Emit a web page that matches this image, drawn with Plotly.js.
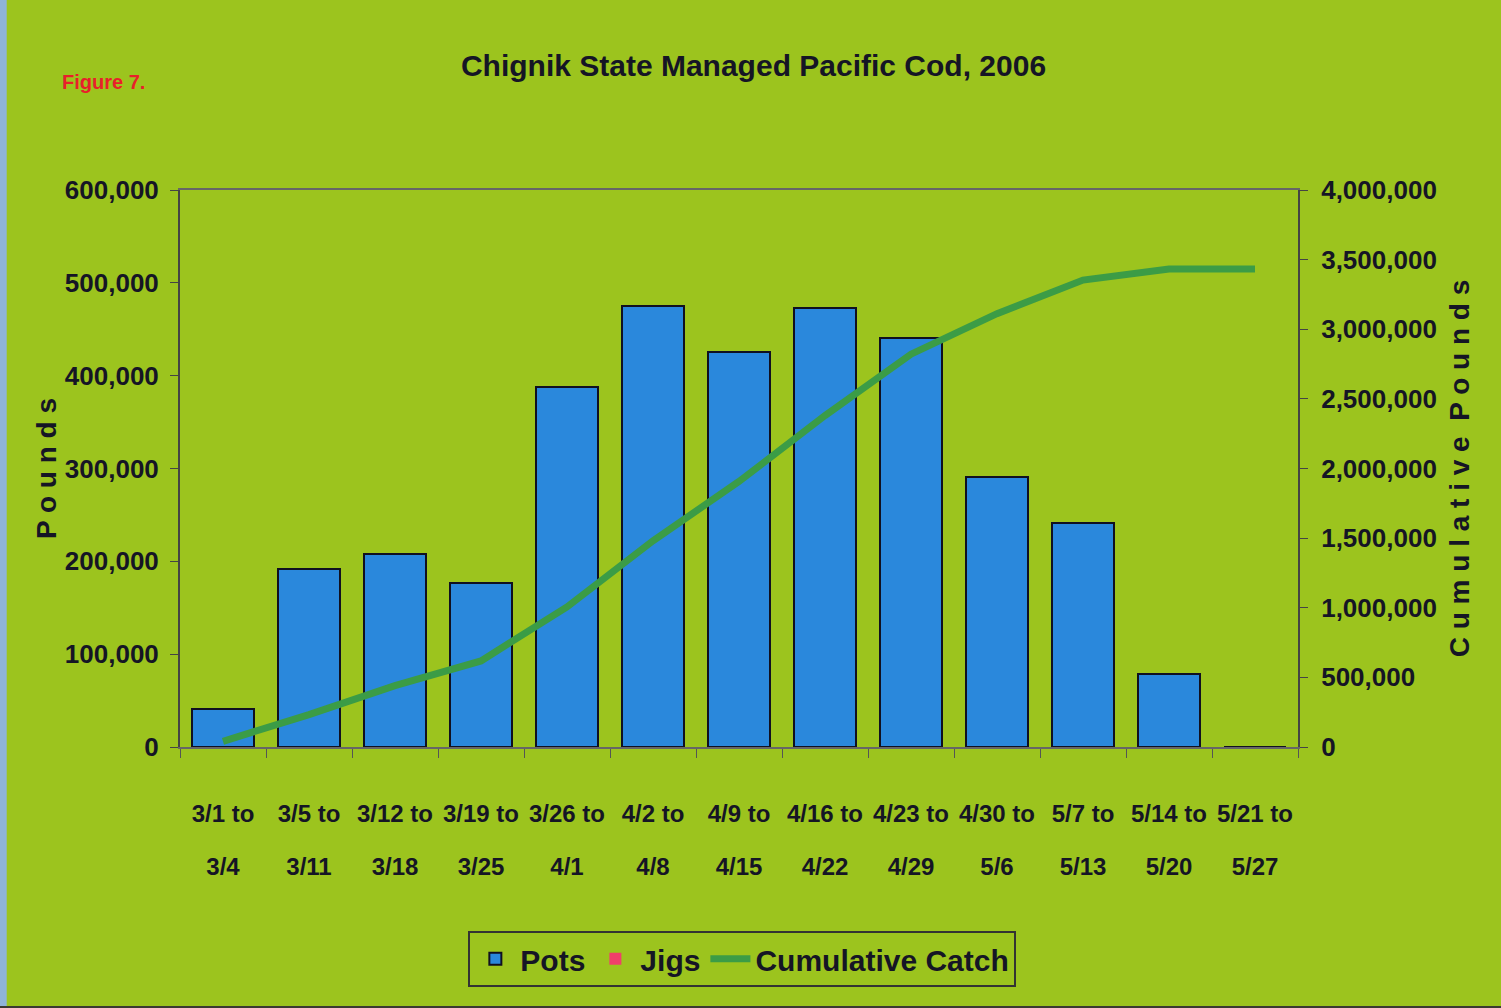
<!DOCTYPE html>
<html>
<head>
<meta charset="utf-8">
<script src="https://cdn.plot.ly/plotly-3.0.1.min.js"></script>
<style>
  html, body { margin: 0; padding: 0; background: #9cc41e; }
  #chart { width: 1501px; height: 1008px; }
</style>
</head>
<body>
<div id="chart"></div>
<script>
// weekly periods
var weeks = ['3/1 to 3/4', '3/5 to 3/11', '3/12 to 3/18', '3/19 to 3/25', '3/26 to 4/1',
  '4/2 to 4/8', '4/9 to 4/15', '4/16 to 4/22', '4/23 to 4/29', '4/30 to 5/6',
  '5/7 to 5/13', '5/14 to 5/20', '5/21 to 5/27'];
var tickTop = ['3/1 to', '3/5 to', '3/12 to', '3/19 to', '3/26 to', '4/2 to', '4/9 to',
  '4/16 to', '4/23 to', '4/30 to', '5/7 to', '5/14 to', '5/21 to'];
var tickBottom = ['3/4', '3/11', '3/18', '3/25', '4/1', '4/8', '4/15', '4/22', '4/29',
  '5/6', '5/13', '5/20', '5/27'];

// pounds per week
var pots = [41000, 192000, 208000, 177000, 388000, 475000, 426000, 473000, 441000,
  291000, 241000, 79000, 0];
var jigs = [0, 0, 0, 0, 0, 0, 0, 0, 0, 0, 0, 0, 0];
var cumulative = [41000, 233000, 441000, 618000, 1006000, 1481000, 1907000, 2380000,
  2821000, 3112000, 3353000, 3432000, 3432000];

var green = '#9cc41e';
var ink = '#151525';
var fontFam = '"Liberation Sans", Arial, sans-serif';

var potsTrace = {
  x: weeks, y: pots, type: 'bar', name: 'Pots',
  marker: { color: '#2a88dc', line: { color: '#101020', width: 2 } }
};
var jigsTrace = {
  x: weeks, y: jigs, type: 'bar', name: 'Jigs',
  marker: { color: '#f0406a', line: { color: '#101020', width: 0 } }
};
var cumTrace = {
  x: weeks, y: cumulative, type: 'scatter', mode: 'lines', name: 'Cumulative Catch',
  yaxis: 'y2', line: { color: '#3b9c46', width: 7 }
};
// carries the second line of the tick labels
var labelTrace = {
  x: weeks, y: weeks.map(function () { return null; }), type: 'scatter', mode: 'lines',
  xaxis: 'x2', showlegend: false, hoverinfo: 'skip'
};

var tickFont = { family: fontFam, size: 26, color: ink, weight: 'bold' };
var xFont = { family: fontFam, size: 24, color: ink, weight: 'bold' };

var layout = {
  width: 1501, height: 1008,
  paper_bgcolor: green, plot_bgcolor: green,
  margin: { l: 180, r: 203, t: 190, b: 261 },
  barmode: 'stack', bargap: 0.28,
  showlegend: true,
  title: {
    text: 'Chignik State Managed Pacific Cod, 2006',
    font: { family: fontFam, size: 30, color: ink, weight: 'bold' },
    x: 0.502, xanchor: 'center', y: 0.935, yanchor: 'middle'
  },
  xaxis: {
    type: 'category', categoryarray: weeks,
    tickmode: 'array', tickvals: weeks, ticktext: tickTop, tickangle: 0,
    tickson: 'boundaries', ticks: 'outside', ticklen: 9, tickcolor: '#555',
    showline: true, linecolor: '#666', linewidth: 2, mirror: true,
    showgrid: false, tickfont: xFont, ticklabelstandoff: 44
  },
  xaxis2: {
    type: 'category', categoryarray: weeks, overlaying: 'x', anchor: 'y', side: 'bottom',
    range: [-0.5, 12.5], tickangle: 0,
    tickmode: 'array', tickvals: weeks, ticktext: tickBottom,
    ticks: '', showline: false, showgrid: false, zeroline: false,
    tickfont: xFont, ticklabelstandoff: 103
  },
  yaxis: {
    range: [0, 600000], dtick: 100000, tickformat: ',d',
    ticks: 'outside', ticklen: 8, tickcolor: '#444',
    showline: true, linecolor: '#444', linewidth: 2,
    showgrid: false, zeroline: false, tickfont: tickFont, ticklabelstandoff: 6,
    title: { text: 'P o u n d s', font: { family: fontFam, size: 28, color: ink, weight: 'bold' }, standoff: 0 }
  },
  yaxis2: {
    overlaying: 'y', side: 'right',
    range: [0, 4000000], dtick: 500000, tickformat: ',d',
    ticks: 'outside', ticklen: 8, tickcolor: '#444',
    showline: true, linecolor: '#444', linewidth: 2,
    showgrid: false, zeroline: false, tickfont: tickFont, ticklabelstandoff: 8,
    title: { text: 'C u m u l a t i v e  P o u n d s', font: { family: fontFam, size: 28, color: ink, weight: 'bold' }, standoff: 14 }
  },
  legend: {
    orientation: 'h', x: 0.503, xanchor: 'center', y: -0.33, yanchor: 'top',
    bgcolor: green, bordercolor: '#333', borderwidth: 2,
    font: { family: fontFam, size: 30, color: ink, weight: 'bold' },
    itemwidth: 40, traceorder: 'normal'
  },
  annotations: [{
    text: 'Figure 7.', xref: 'paper', yref: 'paper', x: -0.107, y: 1.194,
    xanchor: 'left', yanchor: 'middle', showarrow: false,
    font: { family: fontFam, size: 20, color: '#e8202a', weight: 'bold' }
  }],
  shapes: [
    { type: 'rect', xref: 'paper', yref: 'paper', x0: -0.17, x1: -0.155, y0: -0.9, y1: 1.5,
      fillcolor: '#8fb4d8', line: { width: 0 }, layer: 'below' },
    { type: 'rect', xref: 'paper', yref: 'paper', x0: -0.17, x1: 1.2, y0: -0.48, y1: -0.465,
      fillcolor: '#3a3a30', line: { width: 0 }, layer: 'below' }
  ]
};

Plotly.newPlot('chart', [potsTrace, jigsTrace, cumTrace, labelTrace], layout, { displayModeBar: false, staticPlot: true });
</script>
</body>
</html>
